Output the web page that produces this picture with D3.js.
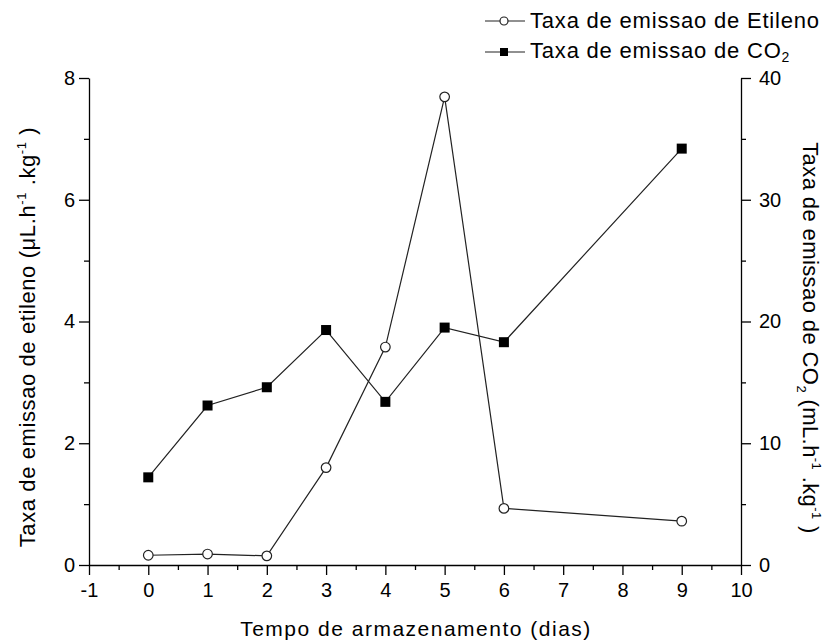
<!DOCTYPE html>
<html><head><meta charset="utf-8">
<script src="https://cdn.jsdelivr.net/npm/d3@7"></script>
<style>body{margin:0;background:#fff}text{font-family:"Liberation Sans",Arial,sans-serif;fill:#000}</style>
</head><body>
<svg id="c" width="830" height="644"></svg>
<script>
const days = [0, 1, 2, 3, 4, 5, 6, 9];
const etileno = [0.16, 0.18, 0.15, 1.6, 3.58, 7.69, 0.93, 0.72];
const co2 = [7.2, 13.1, 14.6, 19.3, 13.4, 19.5, 18.3, 34.2];
const xTicks = [-1,0,1,2,3,4,5,6,7,8,9,10];
const yLeftTicks = [0,2,4,6,8];
const yRightTicks = [0,10,20,30,40];

const svg = d3.select("#c");
const L = 89, R = 741, T = 78, B = 565;
const x = d3.scaleLinear().domain([-1,10]).range([L,R]);
const yL = d3.scaleLinear().domain([0,8]).range([B,T]);
const yR = d3.scaleLinear().domain([0,40]).range([B,T]);

const ax = svg.append("g");
function styleAxis(g){
  g.select(".domain").attr("stroke","#000").attr("stroke-width",1.3);
  g.selectAll(".tick line").attr("stroke","#000").attr("stroke-width",1.3);
  g.selectAll("text").attr("font-size",20).attr("font-family","Liberation Sans, Arial, sans-serif");
}
function minor(g){g.select(".domain").remove();g.selectAll("line").attr("stroke","#000").attr("stroke-width",1.3);}
ax.append("g").attr("transform",`translate(0,${B})`)
  .call(d3.axisBottom(x).tickValues(d3.range(-0.5,10,1)).tickSize(5).tickFormat("")).call(minor);
ax.append("g").attr("transform",`translate(${L},0)`)
  .call(d3.axisLeft(yL).tickValues([1,3,5,7]).tickSize(5).tickFormat("")).call(minor);
ax.append("g").attr("transform",`translate(${R},0)`)
  .call(d3.axisRight(yR).tickValues([5,15,25,35]).tickSize(5).tickFormat("")).call(minor);

const fmt = d => String(d);
ax.append("g").attr("transform",`translate(0,${B})`)
  .call(d3.axisBottom(x).tickValues(xTicks).tickSize(10).tickSizeOuter(0).tickPadding(8).tickFormat(fmt))
  .call(styleAxis);
ax.append("g").attr("transform",`translate(${L},0)`)
  .call(d3.axisLeft(yL).tickValues(yLeftTicks).tickSize(10).tickSizeOuter(0).tickPadding(4).tickFormat(fmt))
  .call(styleAxis);
ax.append("g").attr("transform",`translate(${R},0)`)
  .call(d3.axisRight(yR).tickValues(yRightTicks).tickSize(10).tickSizeOuter(0).tickPadding(8).tickFormat(fmt))
  .call(styleAxis);

// lines
const lineE = d3.line().x((d,i)=>x(days[i])).y(d=>yL(d));
const lineC = d3.line().x((d,i)=>x(days[i])).y(d=>yR(d));
svg.append("path").attr("d",lineC(co2)).attr("fill","none").attr("stroke","#222").attr("stroke-width",1.2);
svg.append("path").attr("d",lineE(etileno)).attr("fill","none").attr("stroke","#222").attr("stroke-width",1.2);
svg.selectAll(".sq").data(co2).enter().append("rect")
  .attr("x",(d,i)=>x(days[i])-5).attr("y",d=>yR(d)-5).attr("width",10).attr("height",10).attr("fill","#000");
svg.selectAll(".ci").data(etileno).enter().append("circle")
  .attr("cx",(d,i)=>x(days[i])).attr("cy",d=>yL(d)).attr("r",4.8).attr("fill","#fff").attr("stroke","#222").attr("stroke-width",1.2);

// legend
const lg = svg.append("g");
lg.append("line").attr("x1",485).attr("x2",525).attr("y1",21).attr("y2",21).attr("stroke","#222").attr("stroke-width",1.2);
lg.append("circle").attr("cx",504).attr("cy",21).attr("r",4).attr("fill","#fff").attr("stroke","#222").attr("stroke-width",1.2);
lg.append("text").attr("x",530).attr("y",28).attr("font-size",22).attr("letter-spacing",0.8).text("Taxa de emissao de Etileno");
lg.append("line").attr("x1",485).attr("x2",525).attr("y1",52).attr("y2",52).attr("stroke","#222").attr("stroke-width",1.2);
lg.append("rect").attr("x",500).attr("y",48).attr("width",8).attr("height",8).attr("fill","#000");
const t2 = lg.append("text").attr("x",530).attr("y",58).attr("font-size",22).attr("letter-spacing",0.8).text("Taxa de emissao de CO");
t2.append("tspan").attr("font-size",14).attr("dy",4).text("2");

// axis titles
svg.append("text").attr("x",416).attr("y",636).attr("text-anchor","middle").attr("font-size",21).attr("letter-spacing",1.5).text("Tempo de armazenamento (dias)");
const lt = svg.append("text").attr("transform","translate(35,337) rotate(-90)").attr("text-anchor","middle").attr("font-size",22).attr("letter-spacing",0.6);
lt.append("tspan").text("Taxa de emissao de etileno (μL.h");
lt.append("tspan").attr("font-size",13).attr("dy",-9).text("-1");
lt.append("tspan").attr("dy",9).text(" .kg");
lt.append("tspan").attr("font-size",13).attr("dy",-9).text("-1");
lt.append("tspan").attr("dy",9).text(" )");
const rt = svg.append("text").attr("transform","translate(803,338) rotate(90)").attr("text-anchor","middle").attr("font-size",22).attr("letter-spacing",0.4);
rt.append("tspan").text("Taxa de emissao de CO");
rt.append("tspan").attr("font-size",13).attr("dy",6).text("2");
rt.append("tspan").attr("dy",-6).text(" (mL.h");
rt.append("tspan").attr("font-size",13).attr("dy",-9).text("-1");
rt.append("tspan").attr("dy",9).text(" .kg");
rt.append("tspan").attr("font-size",13).attr("dy",-9).text("-1");
rt.append("tspan").attr("dy",9).text(" )");
</script>
</body></html>
